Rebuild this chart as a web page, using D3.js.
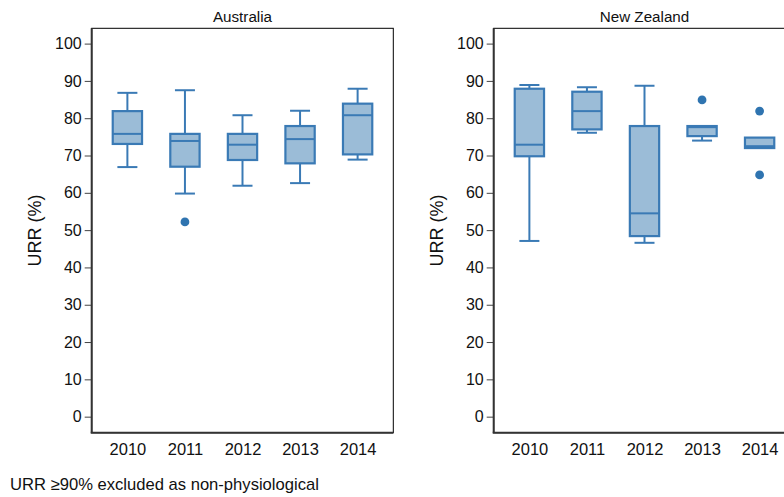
<!DOCTYPE html>
<html>
<head>
<meta charset="utf-8">
<script src="https://cdn.jsdelivr.net/npm/d3@7"></script>
<style>
  html, body { margin: 0; padding: 0; background: #fff; }
  svg { display: block; font-family: "Liberation Sans", Arial, sans-serif; }
</style>
</head>
<body>
<svg id="chart" width="784" height="497"></svg>
<script>
// ---- Data ----
const years = ["2010", "2011", "2012", "2013", "2014"];
const yTicks = [0, 10, 20, 30, 40, 50, 60, 70, 80, 90, 100];

const ausLow  = [66.9, 59.8, 61.9, 62.6, 68.9];
const ausQ1   = [73.1, 67.0, 68.8, 67.9, 70.3];
const ausMed  = [75.8, 73.9, 72.9, 74.4, 80.8];
const ausQ3   = [81.9, 75.8, 75.8, 77.9, 83.9];
const ausHigh = [86.8, 87.5, 80.8, 82.0, 87.9];
const ausOut  = [[], [52.2], [], [], []];

const nzLow  = [47.1, 76.1, 46.6, 74.0, 72.0];
const nzQ1   = [69.8, 77.0, 48.4, 75.2, 72.0];
const nzMed  = [72.9, 81.9, 54.5, 77.6, 72.5];
const nzQ3   = [87.9, 87.1, 77.9, 77.9, 74.8];
const nzHigh = [88.9, 88.3, 88.7, 77.9, 74.8];
const nzOut  = [[], [], [], [84.9], [81.9, 64.8]];

const panels = [
  { title: "Australia",   low: ausLow, q1: ausQ1, med: ausMed, q3: ausQ3, high: ausHigh, out: ausOut, left: 91.7 },
  { title: "New Zealand", low: nzLow,  q1: nzQ1,  med: nzMed,  q3: nzQ3,  high: nzHigh,  out: nzOut,  left: 493.7 }
];

// ---- Layout ----
const svg = d3.select("#chart");
const plotTop = 28.3, plotBottom = 432.7, pw = 301.6;
const strokeC = "#3a7ab5", fillC = "#9bbcd7";

const y = d3.scaleLinear().domain([-4.3, 104.1]).range([plotBottom, plotTop]);

panels.forEach(p => {
  const g = svg.append("g").attr("transform", `translate(${p.left},0)`);
  const x = d3.scalePoint().domain(years).range([0, pw]).padding(0.62);
  const bw = 29.3, cw = 20;

  // frame
  g.append("rect").attr("x", 0).attr("y", plotTop).attr("width", pw).attr("height", plotBottom - plotTop)
    .attr("fill", "none").attr("stroke", "#000").attr("stroke-width", 1);

  // y axis
  const ya = d3.axisLeft(y).tickValues(yTicks).tickSize(7).tickPadding(3).tickFormat(d3.format("d"));
  const yg = g.append("g").call(ya);
  yg.select(".domain").remove();
  yg.selectAll(".tick line").attr("stroke", "#444").attr("stroke-width", 1);
  yg.selectAll(".tick text").attr("font-size", 16).attr("fill", "#111")
    .attr("font-family", "Liberation Sans, Arial, sans-serif");

  // axis lines (left, bottom)
  g.append("line").attr("x1", 0).attr("x2", 0).attr("y1", plotTop).attr("y2", plotBottom)
    .attr("stroke", "#333").attr("stroke-width", 2);
  g.append("line").attr("x1", -1).attr("x2", pw).attr("y1", plotBottom).attr("y2", plotBottom)
    .attr("stroke", "#333").attr("stroke-width", 2);

  // x labels
  const xa = d3.axisBottom(x).tickSize(0).tickPadding(11);
  const xg = g.append("g").attr("transform", `translate(0,${plotBottom})`).call(xa);
  xg.select(".domain").remove();
  xg.selectAll(".tick text").attr("font-size", 16.5).attr("fill", "#111")
    .attr("font-family", "Liberation Sans, Arial, sans-serif");

  // title
  g.append("text").attr("x", pw / 2).attr("y", 21.5).attr("text-anchor", "middle")
    .attr("font-size", 15.2).attr("fill", "#111").text(p.title);

  // y label
  g.append("text").attr("transform", `translate(-51,${(plotTop + plotBottom) / 2}) rotate(-90)`)
    .attr("text-anchor", "middle").attr("font-size", 18).attr("fill", "#111").text("URR (%)");

  // boxes
  years.forEach((yr, i) => {
    const cx = x(yr);
    const bg = g.append("g");
    bg.append("line").attr("x1", cx).attr("x2", cx).attr("y1", y(p.q3[i])).attr("y2", y(p.high[i]))
      .attr("stroke", strokeC).attr("stroke-width", 2);
    bg.append("line").attr("x1", cx).attr("x2", cx).attr("y1", y(p.q1[i])).attr("y2", y(p.low[i]))
      .attr("stroke", strokeC).attr("stroke-width", 2);
    if (p.high[i] > p.q3[i])
      bg.append("line").attr("x1", cx - cw / 2).attr("x2", cx + cw / 2).attr("y1", y(p.high[i])).attr("y2", y(p.high[i]))
        .attr("stroke", strokeC).attr("stroke-width", 2);
    if (p.low[i] < p.q1[i])
      bg.append("line").attr("x1", cx - cw / 2).attr("x2", cx + cw / 2).attr("y1", y(p.low[i])).attr("y2", y(p.low[i]))
        .attr("stroke", strokeC).attr("stroke-width", 2);
    bg.append("rect").attr("x", cx - bw / 2).attr("y", y(p.q3[i])).attr("width", bw)
      .attr("height", y(p.q1[i]) - y(p.q3[i]))
      .attr("fill", fillC).attr("stroke", strokeC).attr("stroke-width", 2.2);
    bg.append("line").attr("x1", cx - bw / 2).attr("x2", cx + bw / 2).attr("y1", y(p.med[i])).attr("y2", y(p.med[i]))
      .attr("stroke", strokeC).attr("stroke-width", 2);
    p.out[i].forEach(v => {
      bg.append("circle").attr("cx", cx).attr("cy", y(v)).attr("r", 4.4).attr("fill", "#2f74b0");
    });
  });
});

// footnote
svg.append("text").attr("x", 10).attr("y", 489.5).attr("font-size", 16.6).attr("fill", "#111")
  .text("URR \u226590% excluded as non-physiological");
</script>
</body>
</html>
